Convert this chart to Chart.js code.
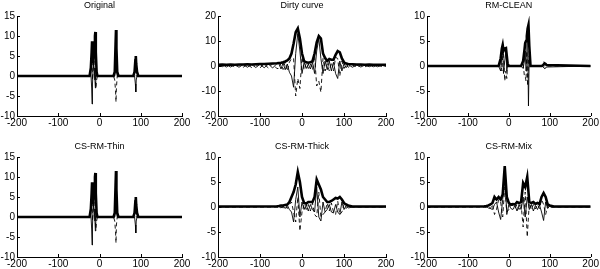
<!DOCTYPE html>
<html><head><meta charset="utf-8">
<script src="https://cdn.jsdelivr.net/npm/chart.js@4/dist/chart.umd.min.js"></script>
<style>
html,body{margin:0;padding:0;background:#fff;}
#wrap{position:relative;width:600px;height:269px;overflow:hidden;background:#fff;}
canvas{position:absolute;}
</style></head><body><div id="wrap"></div>
<script>
// ---------- DATA ----------
const titles = ["Original","Dirty curve","RM-CLEAN","CS-RM-Thin","CS-RM-Thick","CS-RM-Mix"];
const xTicks = [-200,-100,0,100,200];

// Panel 1: Original
const x1 = [-200,-24,-21,-19,-18,-17,-15,-13,-11,-10,-9,-7,-5,34,37,39,40,41,43,46,82,85,87,88,89,91,94,200];
const amp1 = [0,0,2,6,8.7,5,4,7,10,11,6,1,0,0,1,8,11.5,7,1,0,0,1,4,5,3,1,0,0];
const re1 = [0,0,1,-3,-7,-2,3,2,-1,-3,2,1,0,0,0,7,9,4,0,0,0,0,-2,-4,-1,0,0,0];
const im1 = [0,0,1,5,4,-1,2,6,3,-1,-3,-1,0,0,-1,-4,-6.5,-3,0,0,0,1,3,1,0,0,0,0];

// Panel 2: Dirty curve
const x2 = [-200,-190,-180,-170,-160,-150,-140,-130,-120,-110,-100,-90,-80,-70,-60,
  -55,-50,-45,-40,-35,-30,-25,-20,-15,-10,-5,0,5,10,15,20,25,30,35,40,45,50,55,60,65,70,75,80,85,90,95,100,105,110,
  120,130,140,150,160,170,180,190,200];
const amp2 = [0.5,0.6,0.5,0.6,0.5,0.6,0.6,0.7,0.6,0.7,0.8,0.8,0.9,1.0,1.1,
  1.2,1.3,1.5,1.8,2.2,3,5,9,13.5,15,11,5,2,1.5,1.3,1.5,2,5,9.5,12,11,5,3.2,2,2.8,2.5,2.5,4.5,6,5.5,3,1.5,1,0.8,
  0.7,0.6,0.6,0.5,0.6,0.5,0.5,0.5,0.5];
const re2 = [0.4,-0.3,0.5,-0.4,0.5,-0.5,0.6,-0.5,0.6,-0.6,0.7,-0.7,0.8,-0.8,0.9,
  1.0,-1.2,1.3,-1.5,0.8,-2.5,-4,-8.5,5,13,6,-3,1.5,-1,0.8,-1.2,1.5,-3,6,11,3,-3,2,-1.5,2,-2,1.5,-3,-5,2,-2,1,-0.7,0.6,
  -0.5,0.4,-0.4,0.4,-0.3,0.3,-0.3,0.3,-0.2];
const im2 = [-0.3,0.4,-0.4,0.5,-0.4,0.5,-0.5,0.6,-0.6,0.6,-0.7,0.7,-0.8,0.9,-1.0,
  -1.0,1.1,-1.4,1.6,-2,1.5,3,3,-12,-5,-9,3.5,-1.5,1,-1,0.8,-1.5,4,-8,-6,-10.5,3,-2,1,-2,1.5,-2,3.5,3,-4,2,-1,0.6,-0.5,
  0.4,-0.4,0.3,-0.3,0.3,-0.3,0.3,-0.2,0.2];

// Panel 3: RM-CLEAN
const x3 = [-200,-25,-20,-17,-15,-13,-10,-7,-5,-3,0,30,35,38,40,42,44,46,48,50,53,80,84,86,88,90,92,200];
const amp3 = [0,0,1.5,3.5,4.2,3,3.5,3.6,2,0.5,0,0,1,3,4.6,5,6,7.5,8.2,4,0,0,0.2,0.4,0.5,0.4,0.2,0];
const re3 = [0,0,-1,2,3.5,-1.5,1,3,-1,0.3,0,0,-0.5,1,3,-1,4,6,-8,3,0,0,-0.2,-0.4,-0.5,-0.4,-0.2,0];
const im3 = [0,0,1,-1,2,2.5,-3,-1,-2.5,0.3,0,0,0.5,-2,-2,-3,3,-4,1,2,0,0,0,0,0,0,0,0];

// Panel 4: CS-RM-Thin
const x4 = [-200,-24,-21,-19,-18,-17,-15,-13,-11,-10,-9,-7,-5,34,37,39,40,41,43,46,82,85,87,88,89,91,94,200];
const amp4 = [0,0,2,6,8.7,5,4,7,10,11,6,1,0,0,1,8,11.5,7,1,0,0,1,4,5,3,1,0,0];
const re4 = [0,0,1,-3,-7,-2,3,2,-1,-3.5,2,1,0,0,0,7,9,4,0,0,0,0,-2,-4,-1,0,0,0];
const im4 = [0,0,1,5,4,-1,2,6,3,-1,-3,-1,0,0,-1,-4,-6.5,-2,0,0,0,1,3,1,0,0,0,0];

// Panel 5: CS-RM-Thick
const x5 = [-200,-60,-55,-50,-45,-40,-35,-30,-25,-20,-15,-10,-5,0,5,10,15,20,25,30,35,40,45,50,55,60,65,70,75,80,85,90,95,100,105,110,120,200];
const amp5 = [0.1,0.15,0.2,0.3,0.3,0.4,0.5,1,2,3,4.5,7,5,2,0.8,0.7,1,1,1,2,5.5,4.5,3.5,2,1.5,1,1,1.2,1.5,1.8,1.7,2,1.5,0.8,0.5,0.3,0.1,0.1];
const re5 = [0,0,0.1,-0.2,0.2,-0.3,0.3,-0.5,-1,-3,1.5,4,-2,1,-0.5,0.5,-0.8,0.5,-0.5,-1,4,-2,-2.8,1,-1,-0.5,0.5,-1,-1.2,0.5,-1,-1.5,1,-0.5,0.3,-0.2,0,0];
const im5 = [0,0,-0.1,0.1,-0.2,0.2,-0.3,0.5,1,-1,-3,2,-4.8,-1,0.5,-0.5,0.5,-0.8,0.8,-1.5,-2,3,-2,-1.5,-1,0.8,-0.8,0.8,-1,-1.5,1.2,-1.5,-1,0.5,-0.3,0.2,0,0];

// Panel 6: CS-RM-Mix
const x6 = [-200,-60,-55,-50,-45,-40,-35,-30,-25,-20,-15,-10,-5,0,5,10,15,20,25,30,35,40,45,50,55,60,65,70,75,80,85,90,95,100,105,110,120,200];
const amp6 = [0.1,0.15,0.2,0.3,0.5,0.8,2,1.5,2,1.5,2.5,8.2,2,0.8,0.5,0.6,0.5,1,0.8,1,4.8,4,6,1,0.8,1,0.6,0.8,0.6,2,2.8,2,0.5,0.3,0.2,0.1,0.1,0.1];
const re6 = [0,0,0.1,-0.2,-0.3,-0.5,0.5,1,-1,-2.5,1.5,7,-1.5,0.5,-0.3,-0.5,0.3,-0.8,0.5,-0.5,2,-2,2,-0.5,0.5,-0.8,0.3,-0.5,0.4,-1,-2.7,1,-0.3,0.2,-0.1,0,0,0];
const im6 = [0,0,-0.1,0.1,-0.3,0.5,-1.5,-0.5,1.5,1,-2,4,-1,-0.5,0.3,0.3,-0.3,0.5,-0.5,0.5,-4,3,-6,0.8,-0.5,0.5,-0.4,0.5,-0.3,1.5,0.5,-1.5,0.3,-0.2,0.1,0,0,0];

const yRanges = [[-10,15,5],[-20,20,10],[-10,10,5],[-10,15,5],[-10,10,5],[-10,10,5]];
const series = [[x1,amp1,re1,im1],[x2,amp2,re2,im2],[x3,amp3,re3,im3],[x4,amp4,re4,im4],[x5,amp5,re5,im5],[x6,amp6,re6,im6]];

// ---------- LAYOUT ----------
const FONT = "'Liberation Sans', Arial, Helvetica, sans-serif";
const panels = [
  {cx:0,   cy:0,   w:200, h:134, l:17, r:182, t:16, b:116},
  {cx:200, cy:0,   w:200, h:134, l:18, r:186, t:16, b:116},
  {cx:400, cy:0,   w:200, h:134, l:27, r:191, t:16, b:116},
  {cx:0,   cy:134, w:200, h:135, l:17, r:182, t:23, b:123},
  {cx:200, cy:134, w:200, h:135, l:18, r:186, t:23, b:123},
  {cx:400, cy:134, w:200, h:135, l:27, r:191, t:23, b:123}
];
const XH = 12;

const decor = {
  id:'decor',
  afterDraw(chart){
    const ctx = chart.ctx, a = chart.chartArea;
    ctx.save();
    ctx.strokeStyle = '#000'; ctx.lineWidth = 1;
    const xs = chart.scales.x, ys = chart.scales.y;
    xs.ticks.forEach(t => {
      const px = Math.round(xs.getPixelForValue(t.value)) + 0.5;
      ctx.beginPath(); ctx.moveTo(px, a.bottom); ctx.lineTo(px, a.bottom - 3); ctx.stroke();
    });
    ys.ticks.forEach(t => {
      const py = Math.round(ys.getPixelForValue(t.value)) + 0.5;
      ctx.beginPath(); ctx.moveTo(a.left, py); ctx.lineTo(a.left + 3, py); ctx.stroke();
    });
    ctx.fillStyle = '#000';
    ctx.font = '9px ' + FONT;
    ctx.textAlign = 'center'; ctx.textBaseline = 'middle';
    ctx.fillText(chart.options.plugins.panelTitle.text, (a.left + a.right) / 2, a.top - 10);
    ctx.restore();
  }
};

const wrap = document.getElementById('wrap');
panels.forEach((p, i) => {
  const cv = document.createElement('canvas');
  cv.width = p.w; cv.height = p.h;
  cv.style.left = p.cx + 'px'; cv.style.top = p.cy + 'px';
  cv.style.width = p.w + 'px'; cv.style.height = p.h + 'px';
  wrap.appendChild(cv);
  const [xs, amp, re, im] = series[i];
  const pts = arr => xs.map((x, k) => ({x: x, y: arr[k]}));
  const [ymin, ymax, ystep] = yRanges[i];
  new Chart(cv.getContext('2d'), {
    type: 'scatter',
    data: { datasets: [
      {data: pts(re), showLine:true, borderColor:'#000', borderWidth:0.9, pointRadius:0, tension:0, fill:false, order:1},
      {data: pts(im), showLine:true, borderColor:'#000', borderWidth:0.9, borderDash:[4,3], pointRadius:0, tension:0, fill:false, order:2},
      {data: pts(amp), showLine:true, borderColor:'#000', borderWidth:2.6, pointRadius:0, tension:0, fill:false, order:3}
    ]},
    options: {
      responsive:false, animation:false, devicePixelRatio:1,
      layout:{padding:{left:0, top:p.t, right:p.w - p.r, bottom:p.h - p.b - XH}},
      plugins:{legend:{display:false}, tooltip:{enabled:false}, title:{display:false}, panelTitle:{text:titles[i]}},
      scales:{
        x:{type:'linear', min:-200, max:200,
           afterBuildTicks: s => { s.ticks = xTicks.map(v => ({value:v})); },
           ticks:{color:'#000', font:{family:FONT, size:10}, padding:1, autoSkip:false, maxRotation:0},
           grid:{display:false, drawTicks:false, tickLength:0}, border:{display:true, color:'#000', width:1},
           afterFit: s => { s.height = XH; }},
        y:{type:'linear', min:ymin, max:ymax,
           ticks:{stepSize:ystep, color:'#000', font:{family:FONT, size:10}, padding:2, autoSkip:false},
           grid:{display:false, drawTicks:false, tickLength:0}, border:{display:true, color:'#000', width:1},
           afterFit: s => { s.width = p.l; }}
      }
    },
    plugins:[decor]
  });
});
</script></body></html>
